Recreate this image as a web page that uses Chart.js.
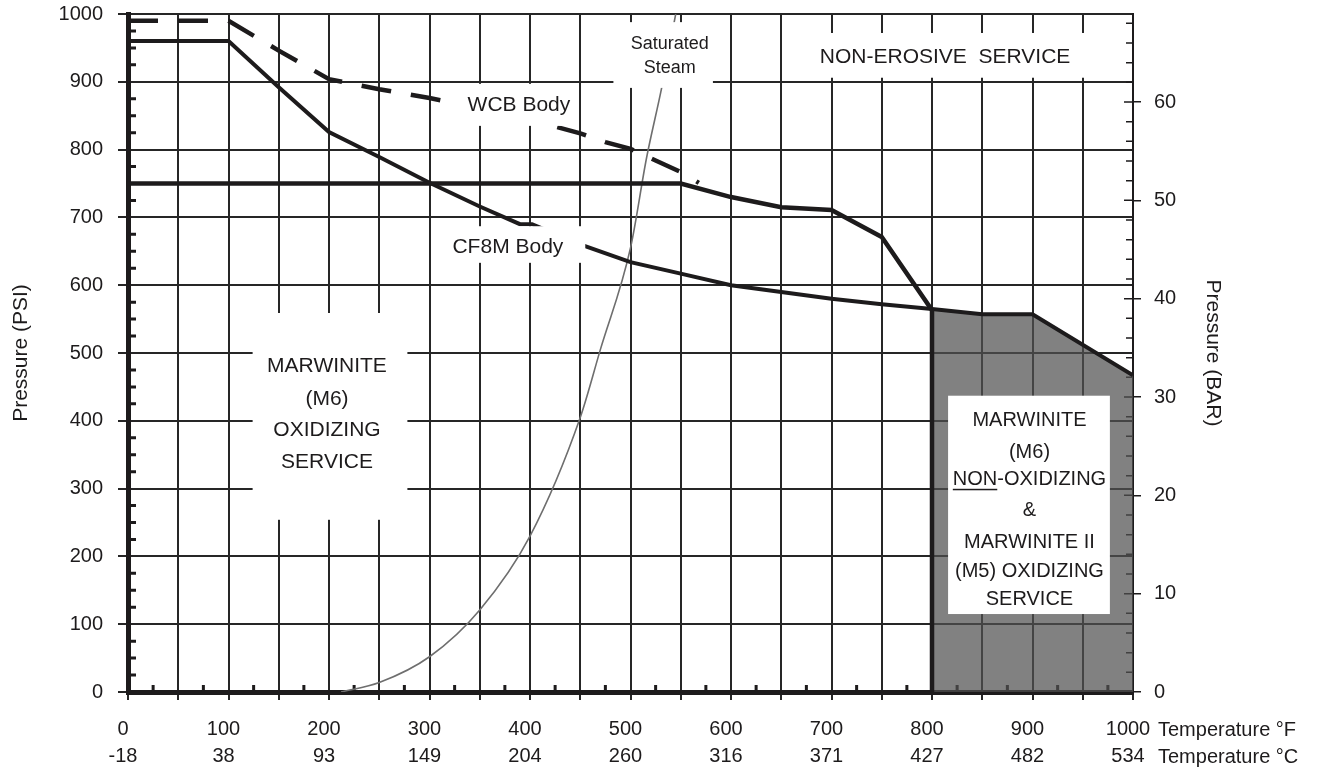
<!DOCTYPE html>
<html lang="en">
<head>
<meta charset="UTF-8">
<title>Pressure / temperature limits</title>
<script src="https://cdn.jsdelivr.net/npm/chart.js@4.4.1/dist/chart.umd.min.js"></script>
<style>
  body { margin: 0; background: #fff; }
  canvas { display: block; }
</style>
</head>
<body>
<canvas id="chart" width="1325" height="771"></canvas>
<script>
// axis labels
const tempF = [0, 100, 200, 300, 400, 500, 600, 700, 800, 900, 1000];
const tempC = ['-18', '38', '93', '149', '204', '260', '316', '371', '427', '482', '534'];
const barTicks = [0, 10, 20, 30, 40, 50, 60];

// curves as [deg F, psi]
const wcbBody = [[0, 990], [100, 990], [150, 946], [200, 904], [250, 889], [300, 876], [350, 861],
  [400, 844], [450, 824], [475, 811], [500, 801], [525, 784], [550, 767], [568, 751]];
const cf8mBody = [[0, 960], [100, 960], [150, 892], [200, 826], [250, 789], [300, 751], [350, 716],
  [390, 690], [402, 690], [452, 659], [500, 634], [550, 617], [600, 600], [650, 590], [700, 580],
  [750, 572], [800, 565], [850, 557], [900, 557], [1000, 467]];
const marwiniteLimit = [[0, 750], [550, 750], [600, 730], [650, 715], [700, 711], [750, 671], [800, 563], [800, 0]];
const satSteam = [[212, 0], [250, 14], [300, 52], [350, 121], [400, 230], [450, 405], [470, 505],
  [500, 655], [516, 788], [531, 891], [545, 1000]];
const nonOxZone = [[800, 563], [850, 557], [900, 557], [1000, 467]];

const ink = '#1d1b1c';
const gridInk = '#262626';
const font = 'Liberation Sans, Arial, Helvetica, sans-serif';
Chart.defaults.font.family = font;

const pts = arr => arr.map(p => ({x: p[0], y: p[1]}));

// text notes, placed in data units (deg F, psi); box = [x0, x1, yTop, yBottom]
const notes = [
  {box: [483, 582, 988, 891], x: 539, ys: [956, 920], size: 18, lines: ['Saturated', 'Steam']},
  {box: [669, 977, 972, 906], x: 813, ys: [937], size: 21, lines: ['NON-EROSIVE  SERVICE']},
  {box: [325, 448, 897, 835], x: 389, ys: [866], size: 21, lines: ['WCB Body']},
  {box: [312, 455, 687, 633], x: 378, ys: [656], size: 21, lines: ['CF8M Body']},
  {box: [124, 278, 559, 254], x: 198, ys: [481, 432, 386, 339], size: 21,
    lines: ['MARWINITE', '(M6)', 'OXIDIZING', 'SERVICE']},
  {box: [816, 977, 437, 115], x: 897, ys: [401, 354, 313, 267, 221, 178, 137], size: 20,
    lines: ['MARWINITE', '(M6)', 'NON-OXIDIZING', '&', 'MARWINITE II', '(M5) OXIDIZING', 'SERVICE'],
    underline: {line: 2, prefix: 'NON'}}
];

const decor = {
  id: 'decor',
  beforeDatasetsDraw(chart) {
    const {ctx, chartArea: a, scales: {x, y, y2}} = chart;
    ctx.save();
    ctx.strokeStyle = ink;
    ctx.lineWidth = 3;
    ctx.beginPath();
    for (let p = 25; p < 1000; p += 25) {
      if (p % 100 === 0) continue;
      const py = y.getPixelForValue(p);
      ctx.moveTo(a.left, py); ctx.lineTo(a.left + 8, py);
    }
    for (let f = 25; f < 1000; f += 50) {
      const px = x.getPixelForValue(f);
      ctx.moveTo(px, a.bottom); ctx.lineTo(px, a.bottom - 7);
    }
    ctx.stroke();
    ctx.lineWidth = 1.5;
    ctx.beginPath();
    for (let b = 2; b < 69; b += 2) {
      const py = y2.getPixelForValue(b);
      const len = b % 10 ? 7 : 9;
      ctx.moveTo(a.right - len, py); ctx.lineTo(a.right, py);
    }
    ctx.stroke();
    ctx.restore();
  },
  afterDatasetsDraw(chart) {
    const {ctx, scales: {x, y}} = chart;
    ctx.save();
    notes.forEach(n => {
      const x0 = x.getPixelForValue(n.box[0]), x1 = x.getPixelForValue(n.box[1]);
      const y0 = y.getPixelForValue(n.box[2]), y1 = y.getPixelForValue(n.box[3]);
      ctx.fillStyle = '#fff';
      ctx.fillRect(x0, y0, x1 - x0, y1 - y0);
      ctx.fillStyle = ink;
      ctx.font = n.size + 'px ' + font;
      ctx.textAlign = 'center';
      ctx.textBaseline = 'middle';
      const cx = x.getPixelForValue(n.x);
      n.lines.forEach((t, i) => {
        const cy = y.getPixelForValue(n.ys[i]);
        ctx.fillText(t, cx, cy);
        if (n.underline && n.underline.line === i) {
          const w = ctx.measureText(t).width;
          const wp = ctx.measureText(n.underline.prefix).width;
          ctx.fillRect(cx - w / 2, cy + n.size * 0.45, wp, 1.5);
        }
      });
    });
    ctx.restore();
  },
  afterDraw(chart) {
    const {ctx, chartArea: a} = chart;
    ctx.save();
    ctx.fillStyle = ink;
    ctx.font = '20px ' + font;
    ctx.textAlign = 'left';
    ctx.textBaseline = 'middle';
    ctx.fillText('Temperature \u00B0F', a.right + 25, a.bottom + 38);
    ctx.fillText('Temperature \u00B0C', a.right + 25, a.bottom + 65);
    ctx.restore();
  }
};

const line = (data, extra) => Object.assign({
  data: pts(data), showLine: true, borderColor: ink, borderWidth: 4,
  pointRadius: 0, tension: 0, fill: false, order: 1
}, extra);

// fixed side widths, no extra label padding at the ends
const fixWidth = w => s => { s.width = w; s.paddingTop = 0; s.paddingBottom = 0; };

new Chart(document.getElementById('chart'), {
  type: 'scatter',
  data: {
    datasets: [
      line(nonOxZone, {label: 'Non-oxidizing zone', borderWidth: 0, fill: 'origin',
        backgroundColor: 'rgba(80,80,80,0.72)', order: 10}),
      line(satSteam, {label: 'Saturated Steam', borderColor: '#6e6e6e', borderWidth: 1.6,
        cubicInterpolationMode: 'monotone', order: 5}),
      line(marwiniteLimit, {label: 'Marwinite limit', borderWidth: 4.5}),
      line(cf8mBody, {label: 'CF8M Body'}),
      line(wcbBody, {label: 'WCB Body', borderDash: [30, 20], borderWidth: 4.5})
    ]
  },
  options: {
    responsive: false,
    animation: false,
    layout: {padding: {top: 14, left: 0, right: 0, bottom: 0}},
    plugins: {legend: {display: false}, tooltip: {enabled: false}},
    scales: {
      x: {
        type: 'linear', min: 0, max: 1000,
        ticks: {
          stepSize: 50, autoSkip: false, maxRotation: 0, padding: 16, labelOffset: -5,
          color: ink, font: {size: 20, lineHeight: 1.35},
          callback: v => tempF.includes(v) ? [String(v), tempC[tempF.indexOf(v)]] : ''
        },
        grid: {color: gridInk, lineWidth: 2, tickLength: 8},
        border: {color: ink, width: 5},
        afterFit(s) { s.height = 79; }
      },
      y: {
        min: 0, max: 1000,
        ticks: {stepSize: 100, padding: 15, color: ink, font: {size: 20}, callback: v => String(v)},
        grid: {color: gridInk, lineWidth: 2, tickLength: 10},
        border: {color: ink, width: 5},
        title: {display: true, text: 'Pressure (PSI)', color: ink, font: {size: 21}, padding: {top: 9, bottom: 0}},
        afterFit: fixWidth(128)
      },
      y2: {
        position: 'right', min: 0, max: 1000 / 14.5038,
        afterBuildTicks(s) { s.ticks = barTicks.map(v => ({value: v})); },
        ticks: {padding: 13, color: ink, font: {size: 20}},
        grid: {drawOnChartArea: false, color: ink, lineWidth: 1.5, tickLength: 8},
        border: {color: ink, width: 2},
        title: {display: true, text: 'Pressure (BAR)', color: ink, font: {size: 21}, padding: {top: 100, bottom: 0}},
        afterFit: fixWidth(192)
      }
    }
  },
  plugins: [decor]
});
</script>
</body>
</html>
